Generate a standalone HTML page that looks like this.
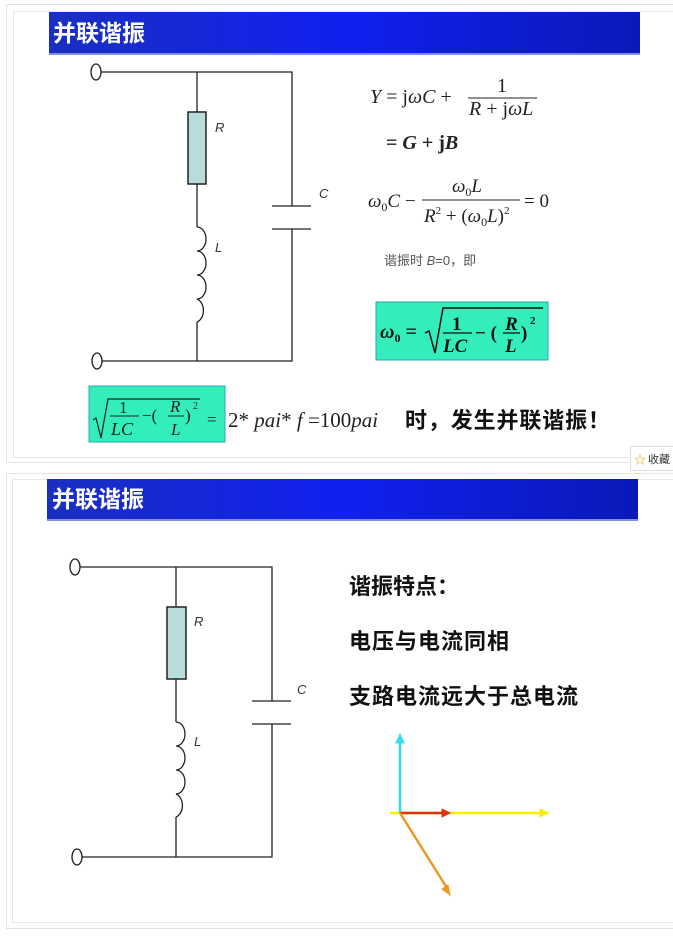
<!DOCTYPE html>
<html><head><meta charset="utf-8"><style>
html,body{margin:0;padding:0;background:#fff;}
svg{display:block;}
.s{font-family:"Liberation Serif",serif;}
.c{font-family:"Liberation Sans","Noto Sans CJK SC",sans-serif;}
</style></head><body>
<svg width="673" height="938" viewBox="0 0 673 938" xmlns="http://www.w3.org/2000/svg">
<defs>
<linearGradient id="bg" x1="0" x2="1" y1="0" y2="0">
<stop offset="0" stop-color="#1a2fc0"/><stop offset="0.5" stop-color="#1020f0"/><stop offset="1" stop-color="#0a1ab8"/>
</linearGradient>
</defs>
<!-- top panel frame -->
<rect x="6.5" y="4.5" width="670" height="458" fill="none" stroke="#e4e4e4"/>
<rect x="13.5" y="11.5" width="660" height="446" fill="none" stroke="#e8e8e8"/>
<rect x="49" y="12" width="591" height="41" fill="url(#bg)"/>
<rect x="49" y="53" width="591" height="2" fill="#8090e0"/>
<text x="53" y="41" class="c" font-size="23" font-weight="bold" fill="#fff">并联谐振</text>
<g stroke="#222" stroke-width="1.3" fill="none">
<ellipse cx="96" cy="72" rx="5" ry="8" fill="#fff"/>
<ellipse cx="97" cy="361" rx="5" ry="8" fill="#fff"/>
<path d="M101 72H292V206M272 206H311M272 229H311M292 229V361H102"/>
<path d="M197 72V112M197 184V227M197 322V361"/>
<path d="M197 227a9 12 0 0 1 0 24a9 12 0 0 1 0 24a9 12 0 0 1 0 24a9 12 0 0 1 0 23"/>
</g>
<rect x="188" y="112" width="18" height="72" fill="#b8dcdc" stroke="#222" stroke-width="1.5"/>
<text x="215" y="132" class="c" font-size="13" font-style="italic" fill="#333">R</text>
<text x="215" y="252" class="c" font-size="13" font-style="italic" fill="#333">L</text>
<text x="319" y="198" class="c" font-size="13" font-style="italic" fill="#333">C</text>
<!-- formulas -->
<g class="s" font-size="20" fill="#222">
<text x="370" y="103"><tspan font-style="italic">Y</tspan> = j<tspan font-style="italic">ωC</tspan> +</text>
<line x1="468" y1="98" x2="537" y2="98" stroke="#222" stroke-width="1"/>
<text x="497" y="92">1</text>
<text x="469" y="115"><tspan font-style="italic">R</tspan> + j<tspan font-style="italic">ωL</tspan></text>
<text x="386" y="149" font-weight="bold">= <tspan font-style="italic">G</tspan> + j<tspan font-style="italic">B</tspan></text>
<text x="368" y="207" font-size="19"><tspan font-style="italic">ω</tspan><tspan font-size="12" dy="4">0</tspan><tspan dy="-4" font-style="italic">C</tspan> −</text>
<line x1="422" y1="200" x2="520" y2="200" stroke="#222" stroke-width="1"/>
<text x="452" y="192" font-size="19"><tspan font-style="italic">ω</tspan><tspan font-size="12" dy="4">0</tspan><tspan dy="-4" font-style="italic">L</tspan></text>
<text x="424" y="222" font-size="19"><tspan font-style="italic">R</tspan><tspan font-size="11" dy="-8">2</tspan><tspan dy="8"> + (</tspan><tspan font-style="italic">ω</tspan><tspan font-size="12" dy="4">0</tspan><tspan dy="-4" font-style="italic">L</tspan>)<tspan font-size="11" dy="-8">2</tspan></text>
<text x="524" y="207" font-size="19">= 0</text>
</g>
<text x="384" y="265" class="c" font-size="13" fill="#555">谐振时 <tspan font-style="italic">B</tspan>=0，即</text>
<!-- green box 1 -->
<rect x="376" y="302" width="172" height="58" fill="#33eebb" stroke="#2ab" stroke-width="1"/>
<g class="s" fill="#111" font-weight="bold">
<text x="380" y="338" font-size="20" font-style="italic">ω<tspan font-size="12" dy="4" font-style="normal">0</tspan><tspan dy="-4" font-style="normal"> =</tspan></text>
<path d="M425 333l4 -2l6 22l8 -45h100" fill="none" stroke="#111" stroke-width="1.5"/>
<text x="452" y="330" font-size="19">1</text>
<line x1="443" y1="333" x2="472" y2="333" stroke="#111" stroke-width="1.3"/>
<text x="443" y="352" font-size="19" font-style="italic">LC</text>
<text x="475" y="339" font-size="19">− (</text>
<text x="505" y="330" font-size="19" font-style="italic">R</text>
<line x1="503" y1="333" x2="520" y2="333" stroke="#111" stroke-width="1.3"/>
<text x="505" y="352" font-size="19" font-style="italic">L</text>
<text x="521" y="339" font-size="19">)</text>
<text x="530" y="324" font-size="11">2</text>
</g>
<!-- green box 2 -->
<rect x="89" y="386" width="136" height="56" fill="#33eebb" stroke="#2ab" stroke-width="1"/>
<g class="s" fill="#222">
<path d="M93 420l3 -2l5 20l7 -39h92" fill="none" stroke="#222" stroke-width="1.2"/>
<text x="119" y="413" font-size="17">1</text>
<line x1="110" y1="416" x2="139" y2="416" stroke="#222"/>
<text x="111" y="435" font-size="18" font-style="italic">LC</text>
<text x="142" y="421" font-size="17">−(</text>
<text x="170" y="412" font-size="17" font-style="italic">R</text>
<line x1="168" y1="416" x2="184" y2="416" stroke="#222"/>
<text x="171" y="435" font-size="17" font-style="italic">L</text>
<text x="185" y="421" font-size="17">)</text>
<text x="193" y="409" font-size="10">2</text>
<text x="207" y="425" font-size="17">=</text>
<text x="228" y="427" font-size="21">2* <tspan font-style="italic">pai</tspan>* <tspan font-style="italic">f</tspan> =100<tspan font-style="italic">pai</tspan></text>
</g>
<text x="405" y="428" class="c" font-size="22" font-weight="bold" fill="#111" textLength="205">时，发生并联谐振！</text>
<rect x="630.5" y="446.5" width="44" height="24" fill="#fff" stroke="#ddd"/>
<text x="634" y="464" class="c" font-size="12" fill="#e8a000">☆</text>
<text x="648" y="463" class="c" font-size="11" fill="#333">收藏</text>

<!-- bottom panel -->
<rect x="6.5" y="473.5" width="670" height="455" fill="none" stroke="#e4e4e4"/>
<rect x="12.5" y="479.5" width="662" height="443" fill="none" stroke="#e8e8e8"/>
<rect x="47" y="479" width="591" height="40" fill="url(#bg)"/>
<rect x="47" y="519" width="591" height="2" fill="#8090e0"/>
<text x="52" y="507" class="c" font-size="23" font-weight="bold" fill="#fff">并联谐振</text>
<g stroke="#222" stroke-width="1.3" fill="none">
<ellipse cx="75" cy="567" rx="5" ry="8" fill="#fff"/>
<ellipse cx="77" cy="857" rx="5" ry="8" fill="#fff"/>
<path d="M80 567H272V701M252 701H291M252 724H291M272 724V857H82"/>
<path d="M176 567V607M176 679V722M176 817V857"/>
<path d="M176 722a9 12 0 0 1 0 24a9 12 0 0 1 0 24a9 12 0 0 1 0 24a9 12 0 0 1 0 23"/>
</g>
<rect x="167" y="607" width="19" height="72" fill="#b8dcdc" stroke="#222" stroke-width="1.5"/>
<text x="194" y="626" class="c" font-size="13" font-style="italic" fill="#333">R</text>
<text x="194" y="746" class="c" font-size="13" font-style="italic" fill="#333">L</text>
<text x="297" y="694" class="c" font-size="13" font-style="italic" fill="#333">C</text>
<g class="c" font-size="22" font-weight="bold" fill="#111">
<text x="349" y="594" textLength="110">谐振特点：</text>
<text x="349" y="649" textLength="160">电压与电流同相</text>
<text x="349" y="704" textLength="229">支路电流远大于总电流</text>
</g>
<g stroke-width="2.5" fill="none">
<path d="M390 813H548" stroke="#f4f000"/>
<path d="M548 813l-8 -4v8z" fill="#f4f000" stroke="#f4f000" stroke-width="1"/>
<path d="M400 813V740" stroke="#33ddee"/>
<path d="M400 734l-4 9h8z" fill="#33ddee" stroke="#33ddee" stroke-width="1"/>
<path d="M400 813H444" stroke="#dd3311"/>
<path d="M450 813l-8 -4v8z" fill="#dd3311" stroke="#dd3311" stroke-width="1"/>
<path d="M400 813L447 888" stroke="#ee9922"/>
<path d="M450 895l-8 -6l6 -4z" fill="#ee9922" stroke="#ee9922" stroke-width="1"/>
</g>
</svg>
</body></html>
